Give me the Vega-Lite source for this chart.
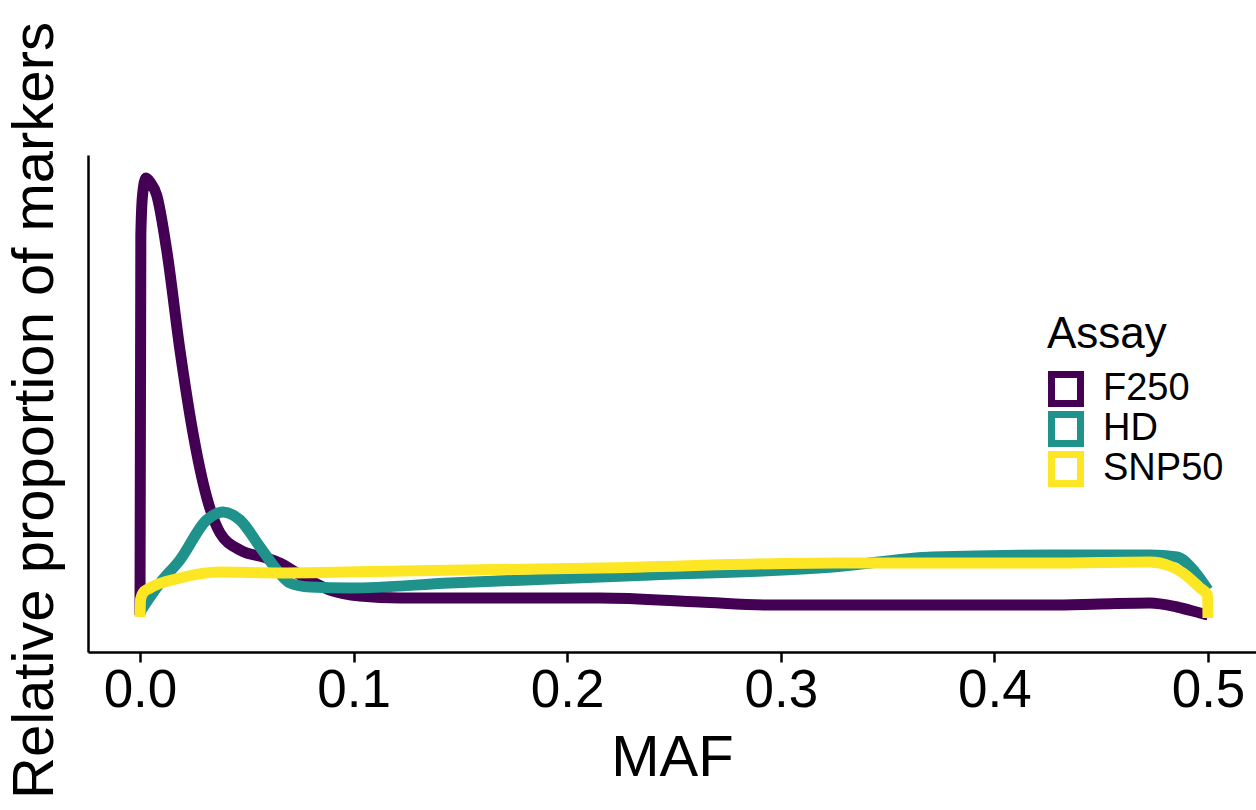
{
  "$schema": "https://vega.github.io/schema/vega-lite/v6.json",
  "autosize": {"type": "none"},
  "padding": {"left": 88, "top": 155, "right": 0, "bottom": 158},
  "width": 1168,
  "height": 497,
  "background": "white",
  "config": {
    "font": "Liberation Sans",
    "view": {"stroke": null}
  },
  "data": {
    "values": [
      {"Assay": "F250", "MAF": 0.0, "density": 0},
      {"Assay": "F250", "MAF": 0.0004, "density": 380},
      {"Assay": "F250", "MAF": 0.0012, "density": 420},
      {"Assay": "F250", "MAF": 0.0028, "density": 437},
      {"Assay": "F250", "MAF": 0.005, "density": 432},
      {"Assay": "F250", "MAF": 0.0078, "density": 420},
      {"Assay": "F250", "MAF": 0.0125, "density": 365},
      {"Assay": "F250", "MAF": 0.0187, "density": 265},
      {"Assay": "F250", "MAF": 0.0248, "density": 182},
      {"Assay": "F250", "MAF": 0.0312, "density": 118},
      {"Assay": "F250", "MAF": 0.0375, "density": 82},
      {"Assay": "F250", "MAF": 0.0468, "density": 65},
      {"Assay": "F250", "MAF": 0.0593, "density": 57},
      {"Assay": "F250", "MAF": 0.0655, "density": 52},
      {"Assay": "F250", "MAF": 0.0749, "density": 40},
      {"Assay": "F250", "MAF": 0.0889, "density": 25},
      {"Assay": "F250", "MAF": 0.103, "density": 19},
      {"Assay": "F250", "MAF": 0.1217, "density": 17},
      {"Assay": "F250", "MAF": 0.1685, "density": 17},
      {"Assay": "F250", "MAF": 0.2154, "density": 17},
      {"Assay": "F250", "MAF": 0.2622, "density": 13},
      {"Assay": "F250", "MAF": 0.2935, "density": 10},
      {"Assay": "F250", "MAF": 0.3324, "density": 10},
      {"Assay": "F250", "MAF": 0.3792, "density": 10},
      {"Assay": "F250", "MAF": 0.426, "density": 10},
      {"Assay": "F250", "MAF": 0.4494, "density": 11},
      {"Assay": "F250", "MAF": 0.4728, "density": 12},
      {"Assay": "F250", "MAF": 0.4855, "density": 8},
      {"Assay": "F250", "MAF": 0.4963, "density": 2},
      {"Assay": "F250", "MAF": 0.5, "density": 0},

      {"Assay": "HD", "MAF": 0.0, "density": 3},
      {"Assay": "HD", "MAF": 0.0094, "density": 32},
      {"Assay": "HD", "MAF": 0.0187, "density": 55},
      {"Assay": "HD", "MAF": 0.0312, "density": 95},
      {"Assay": "HD", "MAF": 0.0389, "density": 103},
      {"Assay": "HD", "MAF": 0.0468, "density": 95},
      {"Assay": "HD", "MAF": 0.0562, "density": 68},
      {"Assay": "HD", "MAF": 0.0641, "density": 45},
      {"Assay": "HD", "MAF": 0.0702, "density": 32},
      {"Assay": "HD", "MAF": 0.0796, "density": 28},
      {"Assay": "HD", "MAF": 0.0983, "density": 27},
      {"Assay": "HD", "MAF": 0.1451, "density": 32},
      {"Assay": "HD", "MAF": 0.2388, "density": 40},
      {"Assay": "HD", "MAF": 0.3244, "density": 48},
      {"Assay": "HD", "MAF": 0.3713, "density": 58},
      {"Assay": "HD", "MAF": 0.426, "density": 60},
      {"Assay": "HD", "MAF": 0.4728, "density": 60},
      {"Assay": "HD", "MAF": 0.4855, "density": 58},
      {"Assay": "HD", "MAF": 0.4939, "density": 43},
      {"Assay": "HD", "MAF": 0.5, "density": 25},

      {"Assay": "SNP50", "MAF": 0.0, "density": -2},
      {"Assay": "SNP50", "MAF": 0.0003, "density": 16},
      {"Assay": "SNP50", "MAF": 0.0014, "density": 22},
      {"Assay": "SNP50", "MAF": 0.0047, "density": 27},
      {"Assay": "SNP50", "MAF": 0.0187, "density": 37},
      {"Assay": "SNP50", "MAF": 0.0375, "density": 43},
      {"Assay": "SNP50", "MAF": 0.0655, "density": 42},
      {"Assay": "SNP50", "MAF": 0.1217, "density": 44},
      {"Assay": "SNP50", "MAF": 0.2154, "density": 47},
      {"Assay": "SNP50", "MAF": 0.3244, "density": 52},
      {"Assay": "SNP50", "MAF": 0.426, "density": 52},
      {"Assay": "SNP50", "MAF": 0.4728, "density": 53},
      {"Assay": "SNP50", "MAF": 0.4822, "density": 49},
      {"Assay": "SNP50", "MAF": 0.4883, "density": 42},
      {"Assay": "SNP50", "MAF": 0.4963, "density": 27},
      {"Assay": "SNP50", "MAF": 0.4998, "density": 20},
      {"Assay": "SNP50", "MAF": 0.5, "density": -3}
    ]
  },
  "mark": {"type": "line", "interpolate": "monotone", "strokeWidth": 11, "strokeCap": "butt", "strokeJoin": "round", "clip": false},
  "encoding": {
    "x": {
      "field": "MAF",
      "type": "quantitative",
      "scale": {"domain": [-0.02434, 0.52247], "nice": false, "zero": false},
      "axis": {
        "values": [0, 0.1, 0.2, 0.3, 0.4, 0.5],
        "format": ".1f",
        "grid": false,
        "domainColor": "black",
        "domainWidth": 2.5,
        "tickColor": "black",
        "tickWidth": 2.5,
        "tickSize": 10,
        "labelFontSize": 53,
        "labelColor": "black",
        "labelPadding": 2,
        "labelFlush": false,
        "labelOverlap": false,
        "title": "MAF",
        "titleFontSize": 58,
        "titleFontWeight": "normal",
        "titleColor": "black",
        "titlePadding": 12
      }
    },
    "y": {
      "field": "density",
      "type": "quantitative",
      "scale": {"domain": [-37, 460], "nice": false, "zero": false},
      "axis": {
        "labels": false,
        "ticks": false,
        "grid": false,
        "domainColor": "black",
        "domainWidth": 2.5,
        "title": "Relative proportion of markers",
        "titleFontSize": 58,
        "titleFontWeight": "normal",
        "titleColor": "black",
        "titlePadding": 24,
        "titleLimit": 2000,
        "titleY": 255
      }
    },
    "color": {
      "field": "Assay",
      "type": "nominal",
      "scale": {"domain": ["F250", "HD", "SNP50"], "range": ["#440154", "#1F928C", "#FDE725"]},
      "legend": {
        "orient": "none",
        "legendX": 959,
        "legendY": 158,
        "padding": 0,
        "title": "Assay",
        "titleFontSize": 44,
        "titleFontWeight": "normal",
        "titleColor": "black",
        "titlePadding": 14,
        "labelFontSize": 38,
        "labelColor": "black",
        "labelOffset": 18,
        "symbolType": "square",
        "symbolSize": 841,
        "symbolStrokeWidth": 7,
        "symbolFillColor": "white",
        "clipHeight": 36,
        "rowPadding": 2
      }
    }
  }
}
